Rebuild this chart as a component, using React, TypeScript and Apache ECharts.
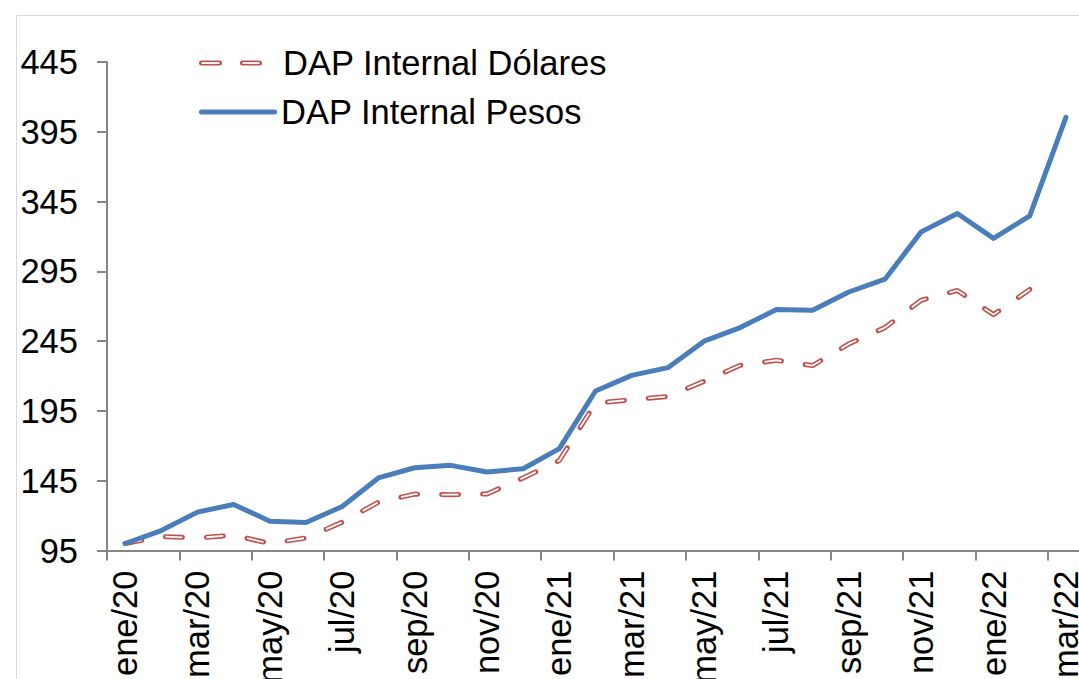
import React, { useEffect, useRef } from "react";
import * as echarts from "echarts";

const categories = [
  "ene/20", "feb/20", "mar/20", "abr/20", "may/20", "jun/20", "jul/20", "ago/20", "sep/20", "oct/20", "nov/20", "dic/20",
  "ene/21", "feb/21", "mar/21", "abr/21", "may/21", "jun/21", "jul/21", "ago/21", "sep/21", "oct/21", "nov/21", "dic/21",
  "ene/22", "feb/22", "mar/22",
];

const pesos = [
  100, 109.3, 122.5, 128, 116, 115, 126.5, 147, 154.3, 156, 151.2, 153.6,
  168, 209.3, 220.5, 226, 245, 254.7, 267.6, 267.1, 280.2, 289.4, 323.3, 336.5,
  318.6, 334.8, 405.3,
];

const dolares = [
  100, 105, 104, 106, 100, 104, 115.3, 129.6, 135.4, 135, 135.5, 147,
  159.5, 200.6, 203, 205.4, 216.2, 227.7, 231.3, 227.5, 243, 254.7, 274.3, 281.3,
  264, 282, null,
];

const yTicks = { min: 95, max: 445, step: 50 };

const seriesNames = ["DAP Internal Dólares", "DAP Internal Pesos"];

const FONT = '"Liberation Sans", Arial, sans-serif';
const FS = 34.5;
const AXIS = "#868686";
const RED = "#c0504d";
const BLUE = "#4a7ebb";

export default function App() {
  const ref = useRef<HTMLDivElement>(null);

  useEffect(() => {
    if (!ref.current) return;
    const chart = echarts.init(ref.current, undefined, { renderer: "svg" });
    const option = {
      animation: false,
      grid: { left: 107, top: 62, width: 977, height: 488.5, outerBoundsMode: "none", containLabel: false },
      xAxis: {
        type: "category",
        data: categories,
        boundaryGap: true,
        axisLine: { show: true, lineStyle: { color: AXIS, width: 2 } },
        axisTick: { show: true, interval: 1, length: 10, lineStyle: { color: AXIS, width: 2 } },
        axisLabel: {
          interval: 1,
          rotate: 90,
          margin: 20,
          fontSize: FS,
          color: "#000",
          fontFamily: FONT,
        },
        splitLine: { show: false },
      },
      yAxis: {
        type: "value",
        min: yTicks.min,
        max: yTicks.max,
        interval: yTicks.step,
        axisLine: { show: true, lineStyle: { color: AXIS, width: 2 } },
        axisTick: { show: true, length: 10, lineStyle: { color: AXIS, width: 2 } },
        axisLabel: { margin: 29, fontSize: FS, color: "#000", fontFamily: FONT },
        splitLine: { show: false },
      },
      series: [
        {
          name: seriesNames[0],
          type: "line",
          data: dolares,
          symbol: "none",
          z: 2,
          lineStyle: { color: RED, width: 5, type: [17, 24], dashOffset: 0, cap: "round", join: "round" },
        },
        {
          name: seriesNames[0] + " inner",
          type: "line",
          data: dolares,
          symbol: "none",
          z: 3,
          lineStyle: { color: "#ffffff", width: 1.8, type: [17, 24], dashOffset: 0, cap: "butt", join: "round" },
        },
        {
          name: seriesNames[1],
          type: "line",
          data: pesos,
          symbol: "none",
          z: 4,
          lineStyle: { color: BLUE, width: 5, cap: "round", join: "round" },
        },
      ],
      graphic: [
        {
          type: "rect",
          silent: true,
          z: -10,
          shape: { x: 16.5, y: 15.5, width: 1200, height: 800 },
          style: { fill: "none", stroke: "#d9d9d9", lineWidth: 1 },
        },
        {
          type: "line",
          shape: { x1: 201.5, y1: 63, x2: 219.5, y2: 63 },
          style: { stroke: RED, lineWidth: 5, lineCap: "round" },
        },
        {
          type: "line",
          shape: { x1: 242.5, y1: 63, x2: 259.5, y2: 63 },
          style: { stroke: RED, lineWidth: 5, lineCap: "round" },
        },
        {
          type: "line",
          z: 101,
          shape: { x1: 201.5, y1: 63, x2: 219.5, y2: 63 },
          style: { stroke: "#fff", lineWidth: 1.8, lineCap: "butt" },
        },
        {
          type: "line",
          z: 101,
          shape: { x1: 242.5, y1: 63, x2: 259.5, y2: 63 },
          style: { stroke: "#fff", lineWidth: 1.8, lineCap: "butt" },
        },
        {
          type: "text",
          x: 283,
          y: 63,
          style: { text: seriesNames[0], fontSize: FS, fontFamily: FONT, fill: "#000", align: "left", verticalAlign: "middle" },
        },
        {
          type: "line",
          shape: { x1: 201.5, y1: 112, x2: 274.5, y2: 112 },
          style: { stroke: BLUE, lineWidth: 5, lineCap: "round" },
        },
        {
          type: "text",
          x: 281,
          y: 112,
          style: { text: seriesNames[1], fontSize: FS, fontFamily: FONT, fill: "#000", align: "left", verticalAlign: "middle" },
        },
      ],
    };
    chart.setOption(option as any);
    return () => chart.dispose();
  }, []);

  return (
    <div
      ref={ref}
      style={{ position: "fixed", left: 0, top: 0, width: 1079, height: 679, background: "#fff" }}
    />
  );
}
